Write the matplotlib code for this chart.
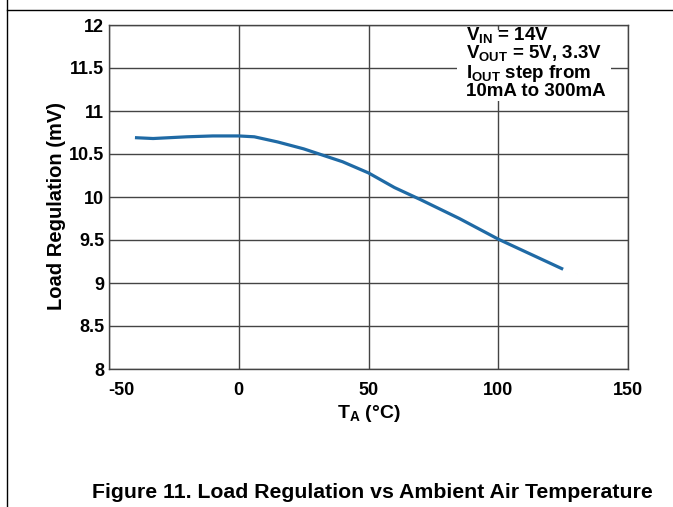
import matplotlib
matplotlib.use("Agg")
import matplotlib.pyplot as plt
from matplotlib.patches import Rectangle
from matplotlib.lines import Line2D
from matplotlib.transforms import ScaledTranslation

plt.rcParams['font.family'] = ['Liberation Sans', 'DejaVu Sans']
plt.rcParams['font.weight'] = 'bold'
plt.rcParams['mathtext.fontset'] = 'custom'
plt.rcParams['mathtext.rm'] = 'Liberation Sans:bold'
plt.rcParams['mathtext.it'] = 'Liberation Sans:bold'
plt.rcParams['mathtext.bf'] = 'Liberation Sans:bold'

temps = [-40, -33, -20, -10, 0, 6, 15, 25, 40, 50, 60, 70, 85, 100, 115, 125]
load_reg = [10.69, 10.68, 10.70, 10.71, 10.71, 10.70, 10.64, 10.56, 10.41, 10.28,
            10.11, 9.97, 9.75, 9.51, 9.30, 9.16]
xticks = [-50, 0, 50, 100, 150]
yticks = [8, 8.5, 9, 9.5, 10, 10.5, 11, 11.5, 12]
ytick_labels = ['8', '8.5', '9', '9.5', '10', '10.5', '11', '11.5', '12']
notes = [r'V$_{\rm IN}$ = 14V', r'V$_{\rm OUT}$ = 5V, 3.3V',
         r'I$_{\rm OUT}$ step from', '10mA to 300mA']

W, H = 673, 507
fig = plt.figure(figsize=(W / 100, H / 100), dpi=100)
ax = fig.add_axes([109 / W, 1 - 369 / H, (628 - 109) / W, (369 - 25) / H])

ax.plot(temps, load_reg, color='#1f6aa5', lw=2.3, zorder=3, solid_capstyle='butt')
ax.set_xlim(-50, 150)
ax.set_ylim(8, 12)
ax.set_xticks(xticks)
ax.set_xticklabels([str(t) for t in xticks], fontsize=13, fontweight='bold')
ax.set_yticks(yticks)
ax.set_yticklabels(ytick_labels, fontsize=13, fontweight='bold')
ax.tick_params(axis='y', length=0, pad=3.5)
ax.tick_params(axis='x', length=0, pad=9.5)
ax.grid(True, color='#444444', lw=1.0, zorder=1)
for s in ax.spines.values():
    s.set_color('#444444')
    s.set_linewidth(1.0)

# shift the first x tick label right, as in the reference
first = ax.get_xticklabels()[0]
first.set_transform(first.get_transform() + ScaledTranslation(12 / 100, 0, fig.dpi_scale_trans))

ax.set_xlabel(r'T$_{\rm A}$ (°C)', fontsize=14, fontweight='bold')
ax.xaxis.set_label_coords(0.5, -0.099)
ax.set_ylabel('Load Regulation (mV)', fontsize=14.5, fontweight='bold')
ax.yaxis.set_label_coords(-0.083, 0.474)

# white background for annotation
ax.add_patch(Rectangle((84.0, 11.12), 59.6, 0.82, facecolor='white', edgecolor='none',
                       zorder=2, clip_on=False))
for txt, yb in zip(notes, [11.826, 11.614, 11.389, 11.169]):
    ax.text(87.4, yb, txt, fontsize=13.5, fontweight='bold', va='baseline', ha='left', zorder=4)

fig.text(372 / W, 1 - 492 / H, 'Figure 11. Load Regulation vs Ambient Air Temperature',
         fontsize=15.3, fontweight='bold', ha='center', va='center')

# page border lines
fig.add_artist(Line2D([7 / W, 7 / W], [0, 1], color='black', lw=1.0, transform=fig.transFigure))
fig.add_artist(Line2D([7 / W, 1], [1 - 9.5 / H, 1 - 9.5 / H], color='black', lw=1.0,
                      transform=fig.transFigure))

fig.savefig('out.png', dpi=100)
